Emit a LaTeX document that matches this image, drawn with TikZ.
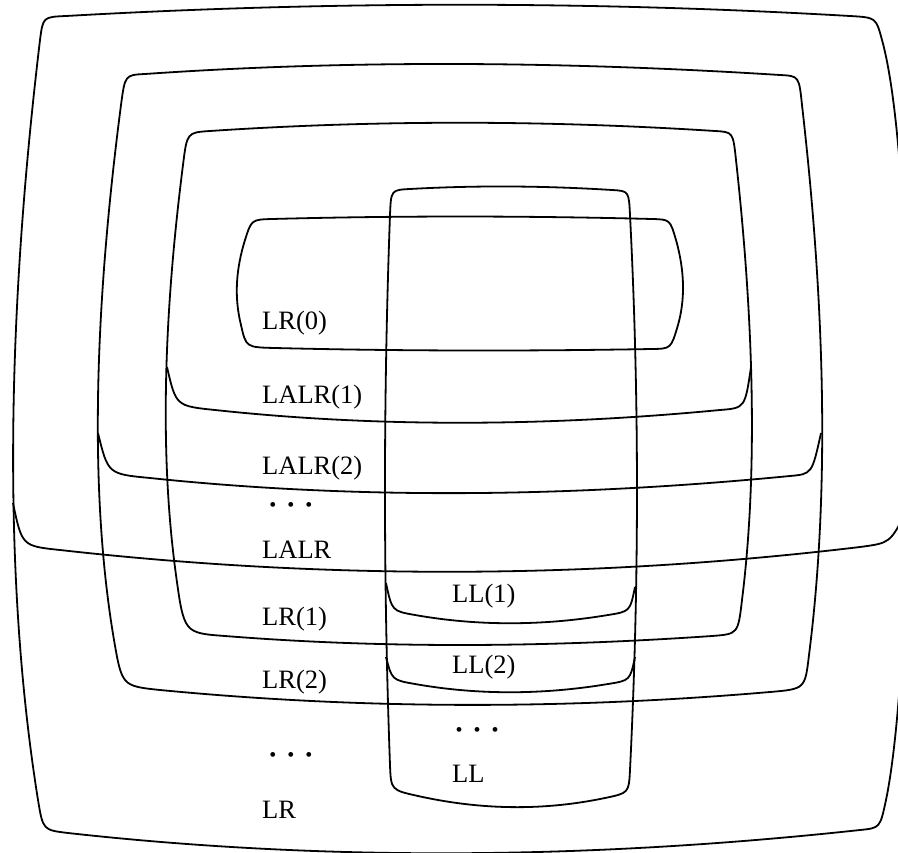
\documentclass[tikz,border=0pt]{standalone}
\usepackage{fontspec}
\setmainfont{Liberation Serif}

\begin{document}
\begin{tikzpicture}
  [x=1pt, y=1pt,
   region/.style={line width=1.8pt, line join=round},
   lbl/.style={anchor=base west, inner sep=0pt, font=\fontsize{26.5}{30}\selectfont},
   dotrow/.style={anchor=center, inner sep=0pt, font=\fontsize{20}{24}\selectfont}]

  \useasboundingbox (0,0) rectangle (898,-853);

  % LR
  \draw
  [region]
  (66,-16) .. controls (330,-1) and (591,-1) .. (850,-16)
  .. controls (876,-17.5) .. (882,-40)
  .. controls (918,-170) and (915,-660) .. (886,-800)
  .. controls (880,-828) .. (860,-830)
  .. controls (584,-860) and (320,-861) .. (68,-833)
  .. controls (43,-830) .. (38,-800)
  .. controls (4,-587) and (5,-333) .. (40,-40)
  .. controls (43,-17) .. (66,-16) -- cycle;

  % LALR
  \draw
  [region]
  (13,-503) .. controls (22,-546) .. (60,-550)
  .. controls (327,-580) and (593,-579) .. (860,-547)
  .. controls (890,-543) .. (906,-512);

  % LR(2)
  \draw
  [region]
  (145,-74) .. controls (347,-60) and (558,-61) .. (780,-75)
  .. controls (799,-76) .. (802,-105)
  .. controls (826,-315) and (829,-498) .. (809,-655)
  .. controls (805,-689) .. (770,-692)
  .. controls (560,-710) and (357,-709) .. (160,-690)
  .. controls (122,-686) .. (114,-640)
  .. controls (90,-498) and (93,-320) .. (121,-105)
  .. controls (125,-75) .. (145,-74) -- cycle;

  % LALR(2)
  \draw
  [region]
  (98,-433) .. controls (108,-474) .. (150,-478)
  .. controls (350,-499) and (563,-498) .. (790,-476)
  .. controls (812,-474) .. (821,-433);

  % LR(1)
  \draw
  [region]
  (210,-131) .. controls (375,-120) and (543,-120) .. (715,-131)
  .. controls (733,-132) .. (736,-160)
  .. controls (755,-333) and (757,-480) .. (742,-600)
  .. controls (738,-634) .. (712,-636)
  .. controls (538,-648) and (376,-648) .. (225,-636)
  .. controls (184,-633) .. (176,-575)
  .. controls (160,-458) and (163,-322) .. (183,-165)
  .. controls (187,-132.5) .. (210,-131) -- cycle;

  % LALR(1)
  \draw
  [region]
  (167,-367) .. controls (176,-406) .. (215,-410)
  .. controls (373,-427) and (542,-427) .. (720,-410)
  .. controls (745,-408) .. (751,-367);

  % LR(0)
  \draw
  [region]
  (272,-219) .. controls (396,-215.7) and (523,-215.7) .. (652,-219)
  .. controls (670,-219.5) .. (676,-240)
  .. controls (685,-272) and (685,-300) .. (678,-325)
  .. controls (671,-348.7) .. (652,-349)
  .. controls (522,-351.3) and (396,-351) .. (275,-348)
  .. controls (246,-347.3) .. (241,-325)
  .. controls (234,-297) and (236,-269) .. (245,-240)
  .. controls (251.5,-219.6) .. (272,-219) -- cycle;

  % LL
  \draw
  [region]
  (410,-189) .. controls (476,-185.3) and (543,-185.7) .. (612,-190)
  .. controls (628.8,-191) .. (630,-215)
  .. controls (639.3,-397) and (639.3,-582) .. (630,-770)
  .. controls (628.8,-793) .. (605,-798)
  .. controls (543,-811) and (481,-810) .. (418,-796)
  .. controls (391,-790) .. (390,-765)
  .. controls (383.3,-582) and (383.3,-398) .. (390,-215)
  .. controls (391,-190) .. (410,-189) -- cycle;

  % LL(1)
  \draw
  [region]
  (386,-583) .. controls (392,-611) .. (415,-615)
  .. controls (477,-626) and (542,-626) .. (608,-615)
  .. controls (630,-611.5) .. (635,-587);

  % LL(2)
  \draw
  [region]
  (386,-657) .. controls (392,-680) .. (415,-684)
  .. controls (477,-695) and (542,-695) .. (608,-684)
  .. controls (630,-680.5) .. (635,-657);

  \node
  [lbl]
  (lr0) at (262,-330) {LR(0)};

  \node
  [lbl]
  (lalr1) at (262,-403) {LALR(1)};

  \node
  [lbl]
  (lalr2) at (262,-475) {LALR(2)};

  \node
  [dotrow]
  (lalrdots) at (291,-507) {\textbullet\hspace{0.55em}\textbullet\hspace{0.55em}\textbullet};

  \node
  [lbl]
  (lalr) at (262,-558) {LALR};

  \node
  [lbl]
  (lr1) at (262,-625) {LR(1)};

  \node
  [lbl]
  (lr2) at (262,-688) {LR(2)};

  \node
  [dotrow]
  (lrdots) at (291,-757) {\textbullet\hspace{0.55em}\textbullet\hspace{0.55em}\textbullet};

  \node
  [lbl]
  (lr) at (262,-818) {LR};

  \node
  [lbl]
  (ll1) at (452,-602) {LL(1)};

  \node
  [lbl]
  (ll2) at (452,-673) {LL(2)};

  \node
  [dotrow]
  (lldots) at (477,-732) {\textbullet\hspace{0.55em}\textbullet\hspace{0.55em}\textbullet};

  \node
  [lbl]
  (ll) at (452,-782) {LL};
\end{tikzpicture}
\end{document}
